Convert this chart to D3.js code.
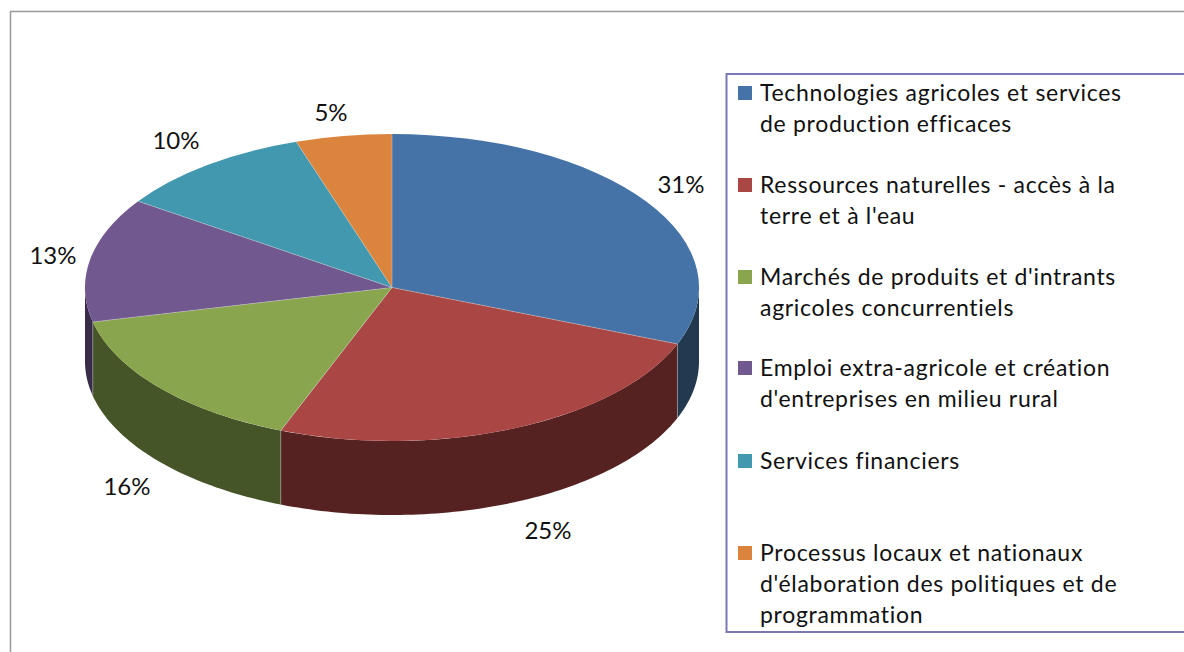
<!DOCTYPE html>
<html>
<head>
<meta charset="utf-8">
<script src="https://cdn.jsdelivr.net/npm/d3@7"></script>
<style>
  html, body { margin: 0; background: #fff; }
  svg { display: block; font-family: Lato, "Open Sans", sans-serif; }
</style>
</head>
<body>
<div id="chart"></div>
<script>
const categories = [
    ["Technologies agricoles et services", "de production efficaces"],
    ["Ressources naturelles - accès à la", "terre et à l'eau"],
    ["Marchés de produits et d'intrants", "agricoles concurrentiels"],
    ["Emploi extra-agricole et création", "d'entreprises en milieu rural"],
    ["Services financiers"],
    ["Processus locaux et nationaux", "d'élaboration des politiques et de", "programmation"]
];
const shares = [31, 24.9, 15.5, 13.1, 10.45, 5.05];
const topColors = ["#4572a7", "#aa4643", "#89a54e", "#71588f", "#4198af", "#db843d"];
const wallColors = ["#22394f", "#552221", "#465527", "#392b4a", "#214c58", "#6e421e"];
const legendRows = [93, 185, 277, 368, 461, 553];
const labelPos = [[681, 185], [548, 531], [127, 487], [53, 256], [176, 141], [331, 113]];

const width = 1184;
const height = 652;

const cx = 392;
const cy = 287.5;
const rx = 307;
const ry = 153.5;
const depth = 74;

const svg = d3.select("#chart").append("svg")
    .attr("width", width)
    .attr("height", height);

// outer chart frame, runs off the right and bottom of the crop
svg.append("path")
    .attr("d", d3.line()([[10.5, height], [10.5, 11.5], [width, 11.5]]))
    .attr("fill", "none")
    .attr("stroke", "#999")
    .attr("stroke-width", 1.5);

const slices = d3.pie().sort(null).value(d => d)(shares);

// unit circle arcs, squashed into the tilted ellipse by the transform
const arc = d3.arc().innerRadius(0).outerRadius(1);

const wall = d3.area()
    .x(a => cx + rx * Math.sin(a))
    .y0(a => cy - ry * Math.cos(a))
    .y1(a => cy - ry * Math.cos(a) + depth);

// only the front half of the rim is visible
function wallAngles(slice) {
    const start = Math.max(slice.startAngle, Math.PI / 2);
    const end = Math.min(slice.endAngle, Math.PI * 1.5);
    if (start >= end) return [];
    const steps = Math.ceil((end - start) / 0.02);
    return d3.range(steps + 1).map(i => start + (end - start) * i / steps);
}

svg.append("g").selectAll("path")
    .data(slices)
    .join("path")
    .attr("d", d => {
        const angles = wallAngles(d);
        return angles.length ? wall(angles) : null;
    })
    .attr("fill", (d, i) => wallColors[i]);

// light seams on the wall where slices meet
svg.append("g").selectAll("line")
    .data(slices.filter(d => d.endAngle > Math.PI / 2 && d.endAngle < Math.PI * 1.5))
    .join("line")
    .attr("x1", d => cx + rx * Math.sin(d.endAngle))
    .attr("x2", d => cx + rx * Math.sin(d.endAngle))
    .attr("y1", d => cy - ry * Math.cos(d.endAngle))
    .attr("y2", d => cy - ry * Math.cos(d.endAngle) + depth)
    .attr("stroke", "#a5a5a5")
    .attr("stroke-opacity", 0.6)
    .attr("stroke-width", 1);

svg.append("g")
    .attr("transform", `translate(${cx},${cy}) scale(${rx},${ry})`)
    .selectAll("path")
    .data(slices)
    .join("path")
    .attr("d", arc)
    .attr("fill", (d, i) => topColors[i]);

// faint radial seams on the top face, none around the rim
svg.append("g").selectAll("line")
    .data(slices)
    .join("line")
    .attr("x1", cx)
    .attr("y1", cy)
    .attr("x2", d => cx + rx * Math.sin(d.startAngle))
    .attr("y2", d => cy - ry * Math.cos(d.startAngle))
    .attr("stroke", "#d8d8d8")
    .attr("stroke-opacity", 0.5)
    .attr("stroke-width", 0.8);

svg.append("g").selectAll("text")
    .data(slices)
    .join("text")
    .attr("x", (d, i) => labelPos[i][0])
    .attr("y", (d, i) => labelPos[i][1])
    .attr("dy", "0.35em")
    .attr("text-anchor", "middle")
    .attr("font-size", 24)
    .attr("fill", "#111")
    .text(d => Math.round(d.value) + "%");

// legend box, open at the right edge
svg.append("path")
    .attr("d", d3.line()([[width, 74], [726.5, 74], [726.5, 632], [width, 632]]))
    .attr("fill", "none")
    .attr("stroke", "#7a78b4")
    .attr("stroke-width", 2);

const legend = svg.append("g").selectAll("g")
    .data(categories)
    .join("g")
    .attr("transform", (d, i) => `translate(738,${legendRows[i]})`);

legend.append("rect")
    .attr("y", -7)
    .attr("width", 14)
    .attr("height", 14)
    .attr("fill", (d, i) => topColors[i]);

legend.selectAll("text")
    .data(d => d)
    .join("text")
    .attr("x", 22)
    .attr("y", (d, i) => i * 31)
    .attr("dy", "0.35em")
    .attr("font-size", 23)
    .attr("letter-spacing", 0.7)
    .attr("fill", "#111")
    .text(d => d);
</script>
</body>
</html>
